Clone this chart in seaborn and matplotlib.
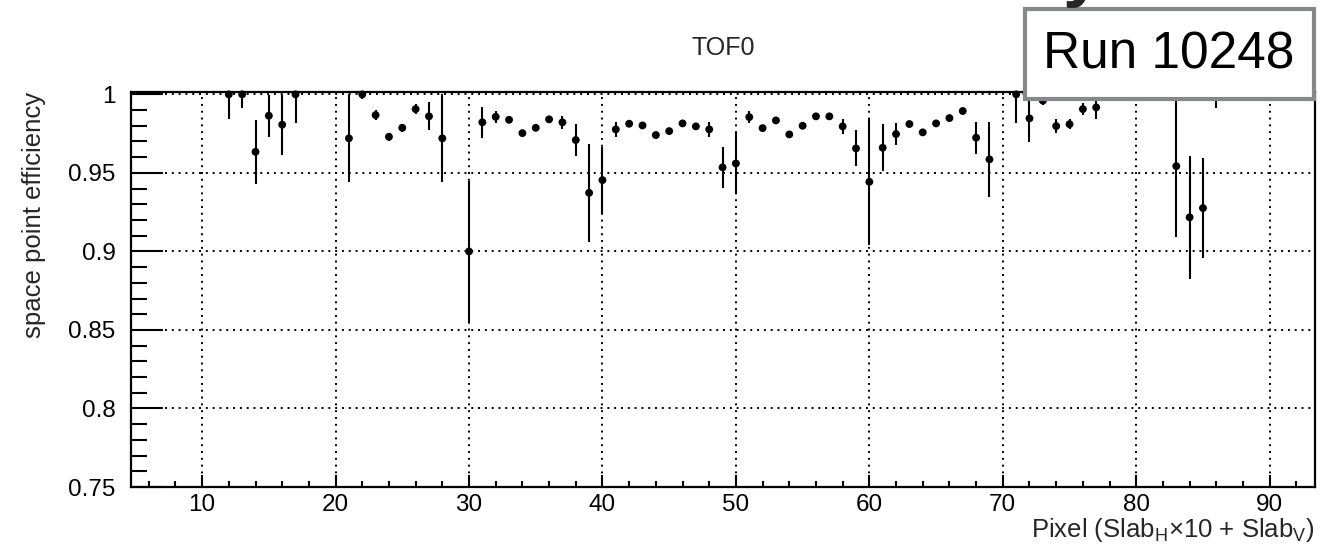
import numpy as np
import pandas as pd
import matplotlib
matplotlib.use("Agg")
import matplotlib.pyplot as plt
import seaborn as sns
from matplotlib.patches import Rectangle
from matplotlib.ticker import MultipleLocator

# pixel index = SlabH*10 + SlabV
pixel = [12, 13, 14, 15, 16, 17, 21, 22, 23, 24, 25, 26, 27, 28, 30,
         31, 32, 33, 34, 35, 36, 37, 38, 39, 40,
         41, 42, 43, 44, 45, 46, 47, 48, 49, 50,
         51, 52, 53, 54, 55, 56, 57, 58, 59, 60,
         61, 62, 63, 64, 65, 66, 67, 68, 69,
         71, 72, 73, 74, 75, 76, 77, 83, 84, 85, 86]
efficiency = [1.000, 1.000, 0.9634, 0.9864, 0.9807, 1.000, 0.972, 1.000, 0.9868, 0.973,
              0.9787, 0.9906, 0.986, 0.972, 0.900,
              0.9822, 0.9857, 0.9838, 0.9753, 0.9787, 0.9841, 0.9822, 0.9709, 0.9373, 0.9454,
              0.9777, 0.9813, 0.9802, 0.9741, 0.9766, 0.9815, 0.9796, 0.9777, 0.9535, 0.956,
              0.9855, 0.9785, 0.9834, 0.9745, 0.980, 0.986, 0.986, 0.9796, 0.9656, 0.9443,
              0.966, 0.9747, 0.9811, 0.9758, 0.9815, 0.9849, 0.9894, 0.9724, 0.9586,
              1.000, 0.9847, 0.996, 0.9798, 0.981, 0.9906, 0.9917, 0.9543, 0.9217, 0.9276, 1.000]
error = [0.016, 0.0085, 0.0205, 0.0134, 0.019, 0.0183, 0.028, 0.003, 0.003, 0.0025,
         0.0025, 0.0032, 0.009, 0.028, 0.045,
         0.0099, 0.0037, 0.0015, 0.0015, 0.0015, 0.0015, 0.0042, 0.010, 0.031, 0.021,
         0.0048, 0.0015, 0.0015, 0.0015, 0.0015, 0.0015, 0.0015, 0.005, 0.013, 0.0196,
         0.004, 0.0015, 0.0015, 0.0015, 0.0015, 0.0015, 0.0015, 0.0049, 0.0114, 0.040,
         0.015, 0.0069, 0.0015, 0.0015, 0.0015, 0.0015, 0.002, 0.0103, 0.0237,
         0.018, 0.015, 0.003, 0.0044, 0.003, 0.0037, 0.0077, 0.045, 0.039, 0.032, 0.009]

df = pd.DataFrame({"pixel": pixel, "eff": efficiency, "err": error})
# efficiency can't go above 1
df["err_hi"] = np.minimum(df["err"], 1.0 - df["eff"])

sns.set_theme(style="ticks")
plt.rcParams['font.family'] = ['Liberation Sans', 'DejaVu Sans']
plt.rcParams['mathtext.fontset'] = 'custom'
plt.rcParams['mathtext.rm'] = 'Liberation Sans'
plt.rcParams['mathtext.it'] = 'Liberation Sans:italic'

fig = plt.figure(figsize=(13.34, 5.48), dpi=100)
ax = fig.add_axes([0.098, 0.1113, 0.8878, 0.7214])

ax.errorbar(df["pixel"], df["eff"], yerr=[df["err"], df["err_hi"]], fmt="none",
            ecolor="black", elinewidth=1.5, capsize=0, zorder=3)
sns.scatterplot(data=df, x="pixel", y="eff", ax=ax, color="black", s=32,
                edgecolor="none", zorder=4, clip_on=False)

ax.set_xlim(4.65, 93.4)
ax.set_ylim(0.75, 1.0017)
ax.xaxis.set_major_locator(MultipleLocator(10))
ax.xaxis.set_minor_locator(MultipleLocator(2))
ax.yaxis.set_minor_locator(MultipleLocator(0.01))
ax.set_yticks([0.75, 0.8, 0.85, 0.9, 0.95, 1.0])
ax.set_yticklabels(["0.75", "0.8", "0.85", "0.9", "0.95", "1"])

ax.grid(True, which="major", color="black", linestyle=(0, (1, 2.5)), linewidth=1.4)
ax.tick_params(axis="both", which="both", direction="in", colors="black",
               labelsize=17.5, top=False, right=False)
ax.tick_params(axis="y", which="major", length=23, width=1.5, pad=11)
ax.tick_params(axis="y", which="minor", length=11.5, width=1.5)
ax.tick_params(axis="x", which="major", length=8.5, width=1.5, pad=5)
ax.tick_params(axis="x", which="minor", length=4.5, width=1.5)
for sp in ax.spines.values():
    sp.set_color("black")
    sp.set_linewidth(1.6)

ax.set_xlabel(r"Pixel (Slab$_{\mathrm{H}}$×10 + Slab$_{\mathrm{V}}$)", fontsize=18.5,
              loc="right", labelpad=0)
ax.set_ylabel("space point efficiency", fontsize=18.5, loc="top", labelpad=16)
fig.text(0.542, 0.912, "TOF0", ha="center", va="center", fontsize=18)

# run box in the corner
box = Rectangle((0.7684, 0.8193), 0.2166, 0.1642, transform=fig.transFigure,
                facecolor="white", edgecolor="#86888b", linewidth=3, zorder=10)
fig.patches.append(box)
fig.text(0.8763, 0.8996, "Run 10248", ha="center", va="center", fontsize=37,
         color="black", zorder=11)
# tail of a cut-off heading above the box
fig.text(0.7965, 1.012, "y", ha="left", va="baseline", fontsize=52,
         fontweight="bold", zorder=11)

fig.savefig("out.png", dpi=100)
